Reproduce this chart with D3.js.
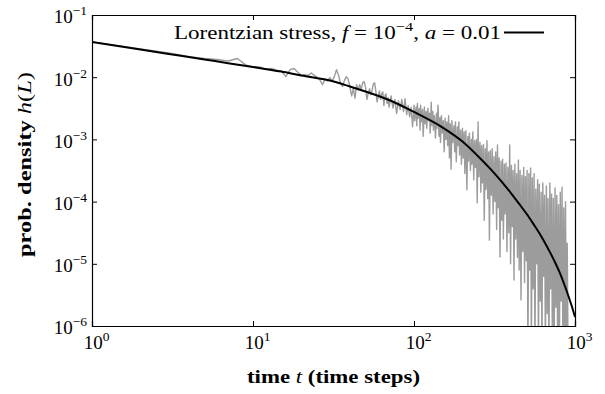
<!DOCTYPE html>
<html>
<head>
<meta charset="utf-8">
<script src="https://cdn.jsdelivr.net/npm/d3@7"></script>
<style>
  body { margin: 0; background: #fff; }
  text { font-family: "Liberation Serif", "DejaVu Serif", serif; fill: #000; }
</style>
</head>
<body>
<div id="chart"></div>
<script>
// fitted curve (black)
const fitT = [1, 2, 3, 5, 7, 10, 15, 20, 30, 40, 50, 70, 100, 150, 200, 250, 300, 350, 400, 450,
  500, 550, 600, 650, 700, 750, 800, 850, 900, 950, 1000];
const fitH = [3.68e-2, 2.79e-2, 2.37e-2, 1.93e-2, 1.68e-2, 1.46e-2, 1.23e-2, 1.065e-2, 8.85e-3, 7.09e-3,
  5.89e-3, 4.30e-3, 2.76e-3, 1.565e-3, 9.25e-4, 5.37e-4, 3.30e-4, 2.10e-4, 1.37e-4, 9.18e-5,
  6.37e-5, 4.42e-5, 3.12e-5, 2.18e-5, 1.525e-5, 1.07e-5, 7.41e-6, 4.99e-6, 3.30e-6, 2.17e-6, 1.40e-6];

// simulated histogram (grey)
const simT = [1, 2, 3, 4, 5, 6, 7, 8, 9, 10, 11, 12, 13, 14, 15, 16, 17, 18, 19, 20, 21, 22, 23, 24, 25,
  26, 27, 28, 29, 30, 31, 32, 33, 34, 35, 36, 37, 38, 39, 40, 41, 42, 43, 44, 45, 46, 47, 48, 49, 50,
  51, 52, 53, 54, 55, 56, 57, 58, 59, 60, 61, 62, 63, 64, 65, 66, 67, 68, 69, 70,
  72, 74, 76, 78, 80, 82, 84, 86, 88, 90, 92, 94, 96, 98,
  100, 101, 103, 104, 105, 106, 108, 109, 110, 111, 113, 114, 116, 117, 119, 120, 122, 123, 125, 126,
  128, 129, 131, 132, 134, 136, 138, 139, 141, 143, 145, 146, 148, 150, 152, 154, 156, 158, 160, 162,
  164, 166, 168, 170, 172, 174, 177, 179, 181, 183, 186, 188, 190, 192, 195, 197, 200, 202, 205, 207,
  210, 213, 216, 218, 221, 224, 227, 229, 232, 235, 238, 241, 244, 247, 250, 253, 257, 260, 263, 266,
  270, 273, 277, 280, 284, 287, 291, 294, 298, 302, 306, 310, 314, 318, 322, 326, 330, 334, 338, 342,
  347, 351, 355, 359, 364, 368, 373, 378, 383, 388, 393, 398, 403, 408, 413, 418, 423, 428, 434, 439,
  445, 450, 456, 462, 468, 474, 480, 486, 492, 498, 504, 510, 517, 523, 530, 536, 543, 550, 557, 564,
  571, 578, 586, 593, 600, 608, 616, 623, 631, 639, 647, 655, 664, 672, 680, 689, 698, 706, 715, 724,
  733, 742, 752, 761, 771, 780, 790, 800, 810, 820, 831, 841, 852, 862, 873, 884, 895, 906];
const simH = [3.68e-2, 2.85e-2, 2.46e-2, 2.14e-2, 2.00e-2, 1.93e-2, 1.82e-2, 2.00e-2, 1.58e-2, 1.45e-2,
  1.46e-2, 1.35e-2, 1.38e-2, 1.30e-2, 1.26e-2, 1.02e-2, 1.32e-2, 1.38e-2, 1.20e-2, 1.06e-2,
  1.10e-2, 1.06e-2, 1.17e-2, 1.07e-2, 1.00e-2,
  9.1e-3, 7.6e-3, 9.3e-3, 8.7e-3, 9.8e-3, 8.7e-3, 1.02e-2, 1.32e-2, 1.07e-2, 7.9e-3,
  7.1e-3, 8.9e-3, 1.02e-2, 9.3e-3, 6.9e-3, 5.0e-3, 6.6e-3, 4.6e-3, 7.6e-3, 6.2e-3,
  7.6e-3, 6.3e-3, 8.1e-3, 8.5e-3, 6.9e-3,
  4.4e-3, 5.6e-3, 6.5e-3, 5.2e-3, 6.3e-3, 7.9e-3, 8.1e-3, 5.8e-3, 4.0e-3, 4.9e-3,
  6.0e-3, 4.4e-3, 5.4e-3, 5.8e-3, 3.5e-3, 5.0e-3, 5.4e-3, 3.8e-3, 4.7e-3, 3.3e-3,
  5.0e-3, 3.2e-3, 4.4e-3, 2.6e-3, 4.2e-3, 3.0e-3, 4.4e-3, 2.8e-3, 4.5e-3, 2.5e-3, 3.5e-3, 2.3e-3, 3.3e-3, 1.6e-3,
  3.55e-3, 2.00e-3, 3.31e-3, 1.66e-3, 3.80e-3, 2.19e-3, 3.16e-3, 1.41e-3, 3.55e-3, 1.91e-3,
  3.02e-3, 1.12e-3, 3.31e-3, 1.78e-3, 2.82e-3, 1.51e-3, 3.16e-3, 2.00e-3, 2.63e-3, 1.26e-3,
  3.98e-3, 1.66e-3, 2.82e-3, 1.41e-3, 2.40e-3, 1.05e-3, 2.63e-3, 1.51e-3, 3.55e-3, 1.12e-3,
  2.24e-3, 8.91e-4, 2.40e-3, 1.26e-3, 2.00e-3, 6.31e-4, 2.19e-3, 1.00e-3, 1.91e-3, 7.94e-4,
  2.40e-3, 5.01e-4, 1.78e-3, 3.31e-4, 2.00e-3, 8.91e-4, 1.66e-3, 6.31e-4, 1.91e-3, 4.37e-4,
  1.58e-3, 7.94e-4, 1.91e-3, 5.62e-4, 1.41e-3, 3.98e-4, 1.51e-3, 5.01e-4, 1.32e-3, 2.82e-4,
  1.38e-3, 1.55e-4, 1.12e-3, 4.47e-4, 1.26e-3, 3.16e-4, 1.00e-3, 3.98e-4, 1.32e-3, 2.24e-4,
  9.55e-4, 3.55e-4, 1.00e-3, 9.55e-5, 1.91e-3, 2.51e-4, 8.91e-4, 1.41e-4, 7.94e-4, 2.00e-4,
  8.32e-4, 5.01e-5, 7.08e-4, 1.58e-4, 9.55e-4, 1.12e-4, 6.31e-4, 2.40e-5, 6.61e-4, 1.26e-4,
  7.08e-4, 6.31e-5, 5.25e-4, 1.00e-4, 6.31e-4, 3.55e-5, 8.13e-4, 7.94e-5, 5.01e-4, 1.29e-5,
  4.47e-4, 5.01e-5, 4.79e-4, 2.51e-5, 3.98e-4, 6.31e-5, 4.17e-4, 1.58e-5, 3.55e-4, 3.16e-5,
  8.13e-4, 1.00e-5, 3.80e-4, 3.98e-5, 3.16e-4, 5.50e-6, 3.98e-4, 2.51e-5, 2.82e-4, 1.26e-5,
  4.68e-4, 7.94e-6, 3.16e-4, 2.63e-6, 2.63e-4, 1.58e-5, 3.55e-4, 5.01e-6, 2.51e-4, 1.12e-5,
  3.16e-4, 3.2e-7, 2.82e-4, 7.94e-6, 3.47e-4, 3.2e-7, 2.40e-4, 3.98e-6, 2.82e-4, 3.2e-7,
  1.58e-4, 1.00e-5, 2.24e-4, 3.2e-7, 1.91e-4, 2.51e-6, 1.41e-4, 3.2e-7, 2.00e-4, 6.31e-6,
  1.26e-4, 3.2e-7, 1.78e-4, 1.58e-6, 1.12e-4, 3.2e-7, 2.00e-4, 3.98e-6, 1.32e-4, 3.2e-7,
  1.12e-4, 3.2e-7, 1.66e-4, 2.00e-6, 1.26e-4, 3.2e-7, 8.91e-5, 3.2e-7, 1.41e-4, 2.51e-6,
  1.70e-4, 3.2e-7, 7.94e-5, 3.2e-7, 1.00e-4, 3.2e-7, 2.14e-5, 3.2e-7];

// ticks
const xTicks = [1, 10, 100, 1000];
const xTickExp = ['0', '1', '2', '3'];
const yTicks = [1e-6, 1e-5, 1e-4, 1e-3, 1e-2, 1e-1];
const yTickExp = ['\u22126', '\u22125', '\u22124', '\u22123', '\u22122', '\u22121'];

const width = 605, height = 394;
const margin = { top: 15, right: 30, bottom: 68, left: 92 };

const x = d3.scaleLog().domain([1, 1000]).range([margin.left, width - margin.right]);
const y = d3.scaleLog().domain([1e-6, 1e-1]).range([height - margin.bottom, margin.top]);

const svg = d3.select('#chart').append('svg')
  .attr('width', width)
  .attr('height', height);

svg.append('clipPath').attr('id', 'plot-clip')
  .append('rect')
  .attr('x', margin.left).attr('y', margin.top)
  .attr('width', width - margin.left - margin.right)
  .attr('height', height - margin.top - margin.bottom);

const plot = svg.append('g').attr('clip-path', 'url(#plot-clip)');

// grey noisy data
const simData = simT.map((t, i) => ({ t, h: simH[i] }));
plot.append('path')
  .datum(simData)
  .attr('fill', 'none')
  .attr('stroke', '#9c9c9c')
  .attr('stroke-width', 1.4)
  .attr('stroke-linejoin', 'round')
  .attr('d', d3.line().x(d => x(d.t)).y(d => y(d.h)));

// black fit
const fitData = fitT.map((t, i) => ({ t, h: fitH[i] }));
plot.append('path')
  .datum(fitData)
  .attr('fill', 'none')
  .attr('stroke', '#000')
  .attr('stroke-width', 2)
  .attr('d', d3.line().x(d => x(d.t)).y(d => y(d.h)).curve(d3.curveMonotoneX));

// axes
const tickLen = 5;
function superLabel(sel, exps, size) {
  sel.selectAll('.tick text').each(function(d, i) {
    const t = d3.select(this).text(null).attr('font-size', size);
    t.append('tspan').text('10');
    t.append('tspan').attr('dy', -8).attr('font-size', 13.5).text(exps[i]);
  });
}

const xAxisB = svg.append('g')
  .attr('transform', `translate(0,${height - margin.bottom})`)
  .call(d3.axisBottom(x).tickValues(xTicks).tickSize(-tickLen).tickPadding(10));
superLabel(xAxisB, xTickExp, 19);
xAxisB.selectAll('.tick text').attr('dx', 4);

const xAxisT = svg.append('g')
  .attr('transform', `translate(0,${margin.top})`)
  .call(d3.axisTop(x).tickValues(xTicks).tickSize(-tickLen).tickFormat(''));

const yAxisL = svg.append('g')
  .attr('transform', `translate(${margin.left},0)`)
  .call(d3.axisLeft(y).tickValues(yTicks).tickSize(-tickLen).tickPadding(5));
superLabel(yAxisL, yTickExp, 19);
yAxisL.selectAll('.tick text').attr('dy', '0.42em');

const yAxisR = svg.append('g')
  .attr('transform', `translate(${width - margin.right},0)`)
  .call(d3.axisRight(y).tickValues(yTicks).tickSize(-tickLen).tickFormat(''));

[xAxisB, xAxisT, yAxisL, yAxisR].forEach(g => {
  g.select('.domain').attr('stroke', '#000').attr('stroke-width', 1.2);
  g.selectAll('.tick line').attr('stroke', '#000').attr('stroke-width', 1);
  g.selectAll('.tick text').attr('font-family', '"Liberation Serif", serif').attr('fill', '#000');
});

// axis titles (stretched to the width of the original Computer Modern lettering)
const xTitle = svg.append('text')
  .attr('x', 247)
  .attr('y', 383)
  .attr('font-size', 19)
  .attr('textLength', 173)
  .attr('lengthAdjust', 'spacingAndGlyphs');
xTitle.append('tspan').attr('font-weight', 'bold').text('time ');
xTitle.append('tspan').attr('font-style', 'italic').text('t');
xTitle.append('tspan').attr('font-weight', 'bold').text(' (time steps)');

const yTitle = svg.append('text')
  .attr('transform', 'translate(31,257) rotate(-90)')
  .attr('font-size', 19)
  .attr('textLength', 185)
  .attr('lengthAdjust', 'spacingAndGlyphs');
yTitle.append('tspan').attr('font-weight', 'bold').text('prob. density ');
yTitle.append('tspan').attr('font-style', 'italic').text('h');
yTitle.append('tspan').text('(');
yTitle.append('tspan').attr('font-style', 'italic').text('L');
yTitle.append('tspan').text(')');

// legend
const legend = svg.append('g');
const legText = legend.append('text')
  .attr('x', 174)
  .attr('y', 38.5)
  .attr('font-size', 19)
  .attr('textLength', 327)
  .attr('lengthAdjust', 'spacingAndGlyphs');
legText.append('tspan').text('Lorentzian stress, ');
legText.append('tspan').attr('font-style', 'italic').text('f');
legText.append('tspan').text(' = 10');
legText.append('tspan').attr('dy', -8).attr('font-size', 13.5).text('\u22124');
legText.append('tspan').attr('dy', 8).text(', ');
legText.append('tspan').attr('font-style', 'italic').text('a');
legText.append('tspan').text(' = 0.01');
legend.append('line')
  .attr('x1', 504).attr('x2', 544)
  .attr('y1', 32.5).attr('y2', 32.5)
  .attr('stroke', '#000')
  .attr('stroke-width', 2);
</script>
</body>
</html>
